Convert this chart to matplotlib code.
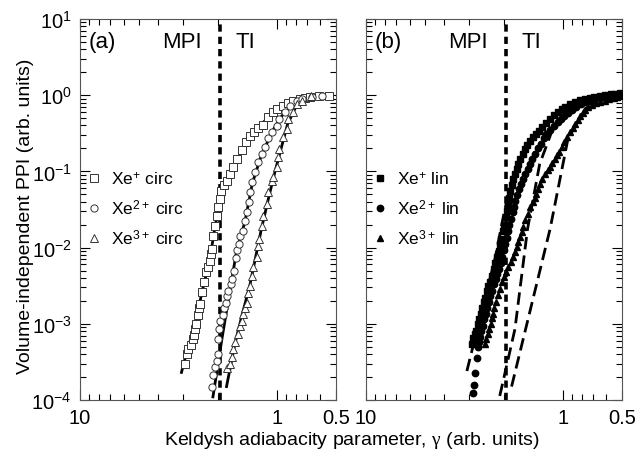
import matplotlib
matplotlib.use("Agg")
import matplotlib.pyplot as plt
from matplotlib.ticker import LogLocator, FixedLocator, FixedFormatter, NullFormatter

plt.rcParams["font.family"] = ["Liberation Sans", "DejaVu Sans"]
plt.rcParams["mathtext.fontset"] = "custom"
plt.rcParams["mathtext.rm"] = "Liberation Sans"
plt.rcParams["mathtext.it"] = "Liberation Serif"
plt.rcParams["mathtext.bf"] = "Liberation Sans:bold"

# panel (a): circular polarisation
g_xe1_circ = [2.93, 2.86, 2.83, 2.73, 2.67, 2.64, 2.61, 2.58, 2.52, 2.49, 2.46, 2.40, 2.35, 2.29, 2.24,
              2.19, 2.17, 2.14, 2.10, 2.06, 2.02, 1.99, 1.94, 1.91, 1.85, 1.80, 1.73, 1.67, 1.60, 1.51,
              1.43, 1.37, 1.30, 1.24, 1.18, 1.11, 1.05, 1.0, 0.93, 0.88, 0.83, 0.76, 0.72, 0.68, 0.61, 0.54]
p_xe1_circ = [3.0e-4, 4.0e-4, 4.6e-4, 5.3e-4, 6.3e-4, 7.1e-4, 8.5e-4, 1.0e-3, 1.3e-3, 1.6e-3, 1.8e-3,
              2.6e-3, 3.5e-3, 4.8e-3, 5.6e-3, 6.7e-3, 8.2e-3, 9.6e-3, 0.014, 0.019, 0.026, 0.034, 0.043,
              0.055, 0.066, 0.075, 0.092, 0.114, 0.146, 0.19, 0.24, 0.29, 0.33, 0.37, 0.41, 0.52, 0.60,
              0.66, 0.72, 0.78, 0.84, 0.89, 0.92, 0.94, 0.97, 0.97]
g_xe2_circ = [2.14, 2.11, 2.06, 2.02, 1.99, 1.98, 1.97, 1.94, 1.88, 1.86, 1.82, 1.78, 1.76, 1.71, 1.69,
              1.65, 1.62, 1.60, 1.56, 1.54, 1.49, 1.45, 1.42, 1.39, 1.37, 1.34, 1.29, 1.24, 1.19, 1.15,
              1.11, 1.06, 1.0, 0.97, 0.91, 0.86, 0.79, 0.74, 0.66, 0.59]
p_xe2_circ = [1.5e-4, 2.1e-4, 2.7e-4, 3.2e-4, 4.0e-4, 6.3e-4, 8.5e-4, 1.1e-3, 1.3e-3, 1.6e-3, 1.9e-3,
              2.3e-3, 2.7e-3, 3.3e-3, 3.9e-3, 4.9e-3, 7.3e-3, 9.3e-3, 0.011, 0.014, 0.0165, 0.022, 0.029,
              0.040, 0.053, 0.072, 0.098, 0.133, 0.169, 0.21, 0.27, 0.33, 0.39, 0.49, 0.60, 0.72, 0.84,
              0.89, 0.94, 0.97]
g_xe3_circ = [1.78, 1.73, 1.69, 1.67, 1.63, 1.58, 1.54, 1.51, 1.49, 1.45, 1.42, 1.40, 1.37, 1.34, 1.32,
              1.26, 1.25, 1.23, 1.19, 1.18, 1.12, 1.11, 1.06, 1.05, 1.0, 0.99, 0.97, 0.93, 0.89, 0.88,
              0.83, 0.79, 0.74, 0.67]
p_xe3_circ = [2.6e-4, 3.0e-4, 3.7e-4, 4.7e-4, 5.8e-4, 7.4e-4, 9.3e-4, 1.1e-3, 1.35e-3, 1.6e-3, 1.9e-3,
              2.5e-3, 3.1e-3, 4.2e-3, 5.6e-3, 7.5e-3, 0.0104, 0.0131, 0.019, 0.026, 0.037, 0.053, 0.075,
              0.085, 0.114, 0.154, 0.197, 0.28, 0.36, 0.49, 0.60, 0.77, 0.84, 0.97]

# solid model curves, panel (a)
g_fit1 = [3.05, 2.85, 2.6, 2.4, 2.2, 2.05, 1.9, 1.7, 1.5, 1.3, 1.1, 0.9, 0.7, 0.55]
p_fit1 = [2.3e-4, 4.5e-4, 9.5e-4, 2.6e-3, 6.5e-3, 0.02, 0.05, 0.10, 0.19, 0.33, 0.52, 0.78, 0.93, 0.98]
g_fit2 = [2.11, 1.90, 1.69, 1.6, 1.45, 1.33, 1.2, 1.05, 0.95, 0.85, 0.75, 0.62, 0.55]
p_fit2 = [1.1e-4, 6.3e-4, 3.9e-3, 9e-3, 0.022, 0.07, 0.16, 0.34, 0.52, 0.73, 0.88, 0.96, 0.98]
g_fit3 = [1.80, 1.63, 1.49, 1.37, 1.28, 1.2, 1.1, 1.02, 0.95, 0.88, 0.80, 0.72, 0.62]
p_fit3 = [1.5e-4, 5.5e-4, 1.4e-3, 3.2e-3, 7.5e-3, 0.017, 0.045, 0.10, 0.20, 0.42, 0.70, 0.90, 0.98]

# panel (b): linear polarisation (dense, overlapping points)
g_xe1_lin = [2.90, 2.85, 2.80, 2.75, 2.70, 2.66, 2.61, 2.57, 2.52, 2.47, 2.43, 2.40, 2.35, 2.30, 2.24,
             2.20, 2.16, 2.12, 2.09, 2.05, 2.02, 1.98, 1.95, 1.92, 1.90, 1.88, 1.86, 1.82, 1.79, 1.75,
             1.71, 1.68, 1.65, 1.60, 1.56, 1.52, 1.47, 1.42, 1.37, 1.32, 1.28, 1.22, 1.16, 1.11, 1.06,
             1.01, 0.97, 0.92, 0.87, 0.82, 0.77, 0.73, 0.69, 0.65, 0.61, 0.57, 0.54, 0.52, 0.51]
p_xe1_lin = [5.4e-4, 6.5e-4, 7.3e-4, 8.0e-4, 1.0e-3, 1.15e-3, 1.35e-3, 1.6e-3, 1.93e-3, 2.2e-3, 2.7e-3,
             3.1e-3, 3.5e-3, 4.2e-3, 5.2e-3, 6.2e-3, 7.5e-3, 9.0e-3, 0.0111, 0.013, 0.0165, 0.020, 0.025,
             0.030, 0.037, 0.045, 0.055, 0.066, 0.079, 0.092, 0.107, 0.125, 0.146, 0.17, 0.197, 0.22,
             0.25, 0.28, 0.31, 0.34, 0.38, 0.43, 0.49, 0.55, 0.60, 0.65, 0.70, 0.76, 0.81, 0.86, 0.89,
             0.92, 0.94, 0.98, 1.0, 1.05, 1.03, 0.98, 1.06]
g_xe2_lin = [2.86, 2.83, 2.80, 2.73, 2.70, 2.67, 2.64, 2.60, 2.55, 2.50, 2.46, 2.42, 2.38, 2.33, 2.29,
             2.24, 2.19, 2.15, 2.11, 2.07, 2.04, 2.00, 1.97, 1.93, 1.90, 1.87, 1.84, 1.80, 1.77, 1.74,
             1.71, 1.67, 1.63, 1.60, 1.56, 1.51, 1.47, 1.43, 1.39, 1.34, 1.29, 1.25, 1.21, 1.16, 1.11,
             1.06, 1.02, 0.98, 0.94, 0.90, 0.86, 0.81, 0.77, 0.73, 0.69, 0.65, 0.61, 0.57, 0.54, 0.52]
p_xe2_lin = [1.24e-4, 1.57e-4, 2.26e-4, 3.56e-4, 4.96e-4, 5.8e-4, 6.7e-4, 8.0e-4, 9.4e-4, 1.15e-3,
             1.35e-3, 1.6e-3, 1.93e-3, 2.3e-3, 2.7e-3, 3.3e-3, 3.9e-3, 4.5e-3, 5.2e-3, 6.3e-3, 7.5e-3,
             9.2e-3, 0.0111, 0.0135, 0.0165, 0.020, 0.0237, 0.029, 0.034, 0.041, 0.049, 0.058, 0.068,
             0.080, 0.092, 0.108, 0.125, 0.145, 0.169, 0.20, 0.229, 0.27, 0.31, 0.35, 0.39, 0.44, 0.49,
             0.54, 0.58, 0.64, 0.70, 0.76, 0.81, 0.85, 0.89, 0.92, 0.94, 0.97, 1.0, 1.02]
g_xe3_lin = [2.49, 2.45, 2.40, 2.36, 2.32, 2.30, 2.27, 2.23, 2.19, 2.14, 2.09, 2.04, 1.99, 1.95, 1.90,
             1.84, 1.79, 1.75, 1.71, 1.68, 1.65, 1.62, 1.60, 1.55, 1.51, 1.46, 1.42, 1.39, 1.36, 1.33,
             1.31, 1.27, 1.23, 1.19, 1.16, 1.13, 1.10, 1.07, 1.04, 1.01, 0.98, 0.95, 0.92, 0.89, 0.87,
             0.84, 0.82, 0.79, 0.77, 0.74, 0.71, 0.68, 0.65, 0.61, 0.58, 0.55, 0.53]
p_xe3_lin = [5.4e-4, 6.3e-4, 7.3e-4, 8.5e-4, 1.0e-3, 1.2e-3, 1.35e-3, 1.6e-3, 1.93e-3, 2.4e-3, 2.9e-3,
             3.5e-3, 4.1e-3, 4.8e-3, 5.6e-3, 6.5e-3, 7.5e-3, 8.8e-3, 0.0102, 0.012, 0.0138, 0.016,
             0.0186, 0.023, 0.0276, 0.034, 0.040, 0.045, 0.050, 0.058, 0.068, 0.080, 0.092, 0.103, 0.114,
             0.13, 0.146, 0.165, 0.18, 0.21, 0.243, 0.28, 0.33, 0.37, 0.42, 0.47, 0.53, 0.58, 0.64,
             0.69, 0.74, 0.78, 0.81, 0.85, 0.89, 0.92, 0.94]

# dashed model curves, panel (b)
g_mod1 = [3.07, 2.64, 2.21, 1.97, 1.65, 1.31, 1.04, 0.73, 0.51]
p_mod1 = [2.4e-4, 1.16e-3, 7.1e-3, 0.032, 0.146, 0.36, 0.62, 0.89, 1.0]
g_mod2 = [2.09, 1.75, 1.51, 1.31, 1.10, 0.87, 0.65]
p_mod2 = [1.13e-4, 8.5e-4, 0.0175, 0.125, 0.42, 0.77, 0.97]
g_mod3 = [1.82, 1.16, 0.94, 0.77, 0.65, 0.51]
p_mod3 = [1.5e-4, 0.0175, 0.27, 0.66, 0.89, 1.0]

gamma_boundary = 1.95
labels_circ = ["Xe$^{+}$ circ", "Xe$^{2+}$ circ", "Xe$^{3+}$ circ"]
labels_lin = ["Xe$^{+}$ lin", "Xe$^{2+}$ lin", "Xe$^{3+}$ lin"]

fig = plt.figure(figsize=(6.44, 4.6), dpi=100)
ax_a = fig.add_axes([0.1242, 0.1283, 0.3975, 0.8283])
ax_b = fig.add_axes([0.5683, 0.1283, 0.3975, 0.8283])


def style_axis(ax, show_ylabels):
    ax.set_xscale("log")
    ax.set_yscale("log")
    ax.set_xlim(10, 0.5)
    ax.set_ylim(1e-4, 10)
    ax.xaxis.set_major_locator(FixedLocator([10, 1, 0.5]))
    ax.xaxis.set_major_formatter(FixedFormatter(["10", "1", "0.5"]))
    ax.xaxis.set_minor_locator(LogLocator(base=10, subs=range(2, 10), numticks=20))
    ax.xaxis.set_minor_formatter(NullFormatter())
    ax.yaxis.set_major_locator(LogLocator(base=10, numticks=10))
    ax.yaxis.set_minor_locator(LogLocator(base=10, subs=range(2, 10), numticks=20))
    ax.yaxis.set_minor_formatter(NullFormatter())
    ax.tick_params(which="both", direction="in", top=True, right=True, width=0.8)
    ax.tick_params(which="major", length=7, labelsize=14.5, pad=6)
    ax.tick_params(which="minor", length=4)
    if not show_ylabels:
        ax.tick_params(labelleft=False)
    for s in ax.spines.values():
        s.set_linewidth(0.8)
        s.set_color("#555555")
    ax.axvline(gamma_boundary, color="black", lw=2.6, dashes=(2.0, 1.4), zorder=2)


style_axis(ax_a, True)
style_axis(ax_b, False)

# panel (a)
for g, p in [(g_fit1, p_fit1), (g_fit2, p_fit2), (g_fit3, p_fit3)]:
    ax_a.plot(g, p, color="black", lw=2.0, zorder=3)
open_kw = dict(ls="none", mfc="white", mec="#333333", mew=0.7, ms=5.2, zorder=4)
ax_a.plot(g_xe1_circ, p_xe1_circ, marker="s", label=labels_circ[0], **open_kw)
ax_a.plot(g_xe2_circ, p_xe2_circ, marker="o", label=labels_circ[1], **open_kw)
ax_a.plot(g_xe3_circ, p_xe3_circ, marker="^", label=labels_circ[2], **open_kw)

# panel (b)
for g, p in [(g_mod1, p_mod1), (g_mod2, p_mod2), (g_mod3, p_mod3)]:
    ax_b.plot(g, p, color="black", lw=2.0, dashes=(4.5, 2.2), zorder=3)
fill_kw = dict(ls="none", color="black", ms=4.6, zorder=4)
ax_b.plot(g_xe1_lin, p_xe1_lin, marker="s", label=labels_lin[0], **fill_kw)
ax_b.plot(g_xe2_lin, p_xe2_lin, marker="o", label=labels_lin[1], **fill_kw)
ax_b.plot(g_xe3_lin, p_xe3_lin, marker="^", label=labels_lin[2], **fill_kw)

for ax, tag in [(ax_a, "(a)"), (ax_b, "(b)")]:
    ax.text(0.035, 0.94, tag, transform=ax.transAxes, fontsize=16, ha="left", va="center")
    ax.text(0.40, 0.94, "MPI", transform=ax.transAxes, fontsize=16, ha="center", va="center")
    ax.text(0.645, 0.94, "TI", transform=ax.transAxes, fontsize=16, ha="center", va="center")
    ax.legend(loc="upper left", bbox_to_anchor=(0.0, 0.622), frameon=False, fontsize=12.5,
              handlelength=0.8, handletextpad=0.6, labelspacing=0.62, borderaxespad=0)

fig.text(0.039, 0.53, "Volume-independent PPI (arb. units)", rotation=90,
         ha="center", va="center", fontsize=14)
fig.text(0.546, 0.043, r"Keldysh adiabacity parameter, $\gamma$ (arb. units)",
         ha="center", va="center", fontsize=14)

fig.savefig("out.png", dpi=100)
